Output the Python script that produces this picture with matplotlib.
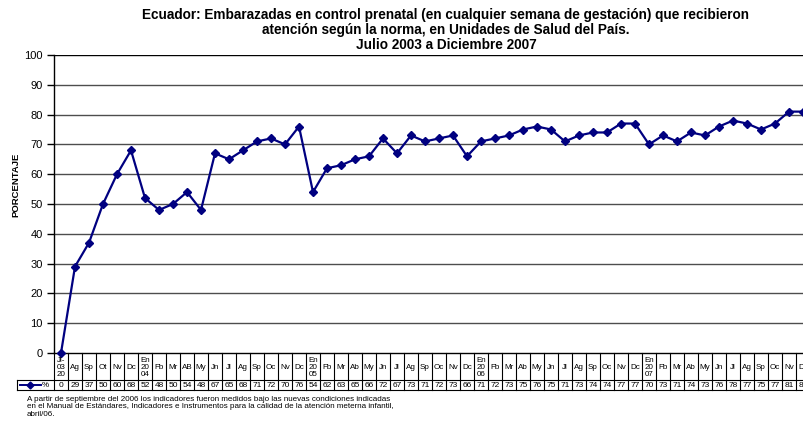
import numpy as np
import matplotlib
matplotlib.use('Agg')
import matplotlib.pyplot as plt

plt.rcParams['font.family'] = ['Liberation Sans', 'DejaVu Sans']

# month labels for the data table (as printed in the original)
meses = ['Jl-\n03\n20', 'Ag', 'Sp', 'Ot', 'Nv', 'Dc',
         'En\n20\n04', 'Fb', 'Mr', 'AB', 'My', 'Jn', 'Jl', 'Ag', 'Sp', 'Oc', 'Nv', 'Dc',
         'En\n20\n05', 'Fb', 'Mr', 'Ab', 'My', 'Jn', 'Jl', 'Ag', 'Sp', 'Oc', 'Nv', 'Dc',
         'En\n20\n06', 'Fb', 'Mr', 'Ab', 'My', 'Jn', 'Jl', 'Ag', 'Sp', 'Oc', 'Nv', 'Dc',
         'En\n20\n07', 'Fb', 'Mr', 'Ab', 'My', 'Jn', 'Jl', 'Ag', 'Sp', 'Oc', 'Nv', 'Dc']

pct_2003 = [0, 29, 37, 50, 60, 68]
pct_2004 = [52, 48, 50, 54, 48, 67, 65, 68, 71, 72, 70, 76]
pct_2005 = [54, 62, 63, 65, 66, 72, 67, 73, 71, 72, 73, 66]
pct_2006 = [71, 72, 73, 75, 76, 75, 71, 73, 74, 74, 77, 77]
pct_2007 = [70, 73, 71, 74, 73, 76, 78, 77, 75, 77, 81, 81]
porcentaje = pct_2003 + pct_2004 + pct_2005 + pct_2006 + pct_2007

titulo = ('Ecuador: Embarazadas en control prenatal (en cualquier semana de gestación) que recibieron\n'
          'atención según la norma, en Unidades de Salud del País.\n'
          'Julio 2003 a Diciembre 2007')
nota = ('A partir de septiembre del 2006 los indicadores fueron medidos bajo las nuevas condiciones indicadas\n'
        'en el Manual de Estándares, Indicadores e Instrumentos para la calidad de la atención meterna infantil,\n'
        'abril/06.')

W, H = 804, 421
n = len(porcentaje)
colw = 14.0
x0 = 54
x1 = x0 + n * colw
y_top, y_zero = 55, 353
navy = '#000080'

fig = plt.figure(figsize=(W / 100, H / 100), dpi=100)
fig.patch.set_facecolor('white')

def fx(px):
    return px / W

def fy(py):
    return 1 - py / H

ax = fig.add_axes([fx(x0), fy(y_zero), fx(x1 - x0), (y_zero - y_top) / H])
ax.set_xlim(0, n)
ax.set_ylim(0, 100)
ax.set_yticks(np.arange(0, 101, 10))
ax.set_xticks([])
for s in ['top', 'right']:
    ax.spines[s].set_visible(False)
ax.spines['left'].set_linewidth(1.0)
ax.spines['bottom'].set_linewidth(1.0)
ax.tick_params(axis='y', direction='out', length=5, width=1, labelsize=8, pad=3)
for v in range(10, 101, 10):
    ax.axhline(v, color='#000000' if v == 100 else '#4d4d4d', lw=1.0, zorder=1)

xs = np.arange(n) + 0.5
ax.plot(xs, porcentaje, color=navy, lw=1.6, marker='D', ms=4.2,
        markerfacecolor=navy, markeredgecolor=navy, clip_on=False, zorder=3)

fig.text(fx(16), fy(185), 'PORCENTAJE', rotation=90, fontsize=6.8, fontweight='bold',
         ha='center', va='center')

# data table under the axis
tax = fig.add_axes([0, 0, 1, 1])
tax.set_xlim(0, W)
tax.set_ylim(H, 0)
tax.axis('off')
row1, row2 = 380, 390
lw = 0.8
tax.plot([x0, x1], [row1, row1], color='k', lw=lw)
tax.plot([17, x1], [row2, row2], color='k', lw=lw)
tax.plot([17, x0], [row1, row1], color='k', lw=lw)
tax.plot([17, 17], [row1, row2], color='k', lw=lw)
for i in range(n + 1):
    xx = x0 + i * colw
    tax.plot([xx, xx], [y_zero, row2], color='k', lw=lw)
for i in range(n):
    cx = x0 + (i + 0.5) * colw
    tax.text(cx, (y_zero + row1) / 2 + 1, meses[i], ha='center', va='center',
             fontsize=5.8, linespacing=1.05)
    tax.text(cx, (row1 + row2) / 2 + 0.5, str(porcentaje[i]), ha='center', va='center',
             fontsize=6)
tax.plot([20, 41], [385, 385], color=navy, lw=1.4)
tax.plot([30], [385], marker='D', ms=3.5, color=navy)
tax.text(42, 385.5, '%', fontsize=5.8, ha='left', va='center')

fig.text(fx(446), fy(8), titulo, ha='center', va='top', fontsize=9.8,
         fontweight='bold', linespacing=1.1)
fig.text(fx(27), fy(396), nota, ha='left', va='top', fontsize=5.8, linespacing=1.05)

fig.savefig('out.png', dpi=100)
